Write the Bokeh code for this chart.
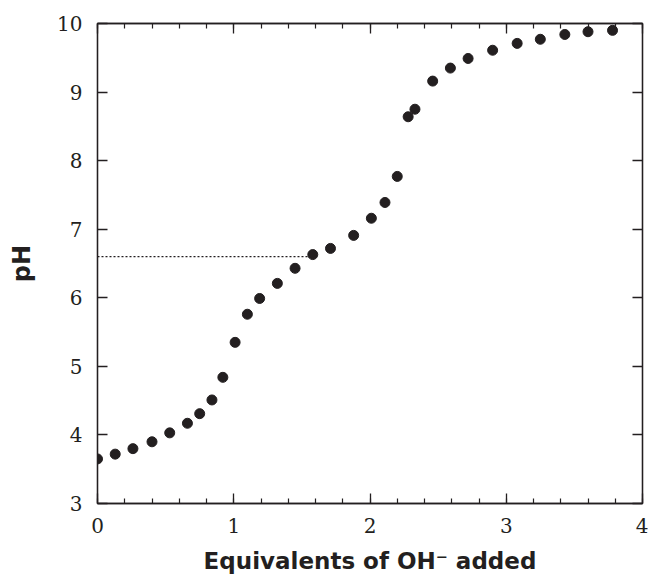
from bokeh.plotting import figure
from bokeh.models import Range1d, LinearAxis, SingleIntervalTicker
from bokeh.embed import file_html
from bokeh.resources import INLINE

# Data
equivalents = [0.0, 0.13, 0.26, 0.40, 0.53, 0.66, 0.75, 0.84, 0.92, 1.01,
               1.10, 1.19, 1.32, 1.45, 1.58, 1.71, 1.88, 2.01, 2.11, 2.20,
               2.28, 2.33, 2.46, 2.59, 2.72, 2.90, 3.08, 3.25, 3.43, 3.60, 3.78]
ph_values = [3.65, 3.72, 3.80, 3.90, 4.03, 4.17, 4.31, 4.51, 4.84, 5.35,
             5.76, 5.99, 6.21, 6.43, 6.63, 6.72, 6.91, 7.16, 7.39, 7.77,
             8.64, 8.75, 9.16, 9.35, 9.49, 9.61, 9.71, 9.77, 9.84, 9.88, 9.90]
ref_line_x = [0.0, 1.58]
ref_line_y = [6.6, 6.6]

x_title = "Equivalents of OH\u207b added"
y_title = "pH"

INK = "#231f20"

p = figure(frame_width=545, frame_height=480,
           x_range=Range1d(0, 4), y_range=Range1d(3, 10),
           output_backend="svg", toolbar_location=None,
           min_border_left=97, min_border_top=23, min_border_right=6,
           min_border_bottom=72,
           x_axis_label=x_title, y_axis_label=y_title)

p.xgrid.visible = False
p.ygrid.visible = False
p.outline_line_color = INK
p.outline_line_width = 1.3
p.background_fill_color = "white"
p.border_fill_color = "white"

xt = SingleIntervalTicker(interval=1, num_minor_ticks=5)
yt = SingleIntervalTicker(interval=1, num_minor_ticks=0)

def style(ax, labels=True):
    ax.axis_line_color = INK
    ax.axis_line_width = 1.3
    ax.major_tick_line_color = INK
    ax.major_tick_line_width = 1.3
    ax.minor_tick_line_color = INK
    ax.minor_tick_line_width = 1.2
    ax.major_tick_in = 10
    ax.major_tick_out = 0
    ax.minor_tick_in = 5
    ax.minor_tick_out = 0
    if labels:
        ax.major_label_text_font = "DejaVu Serif"
        ax.major_label_text_font_size = "20px"
        ax.major_label_text_color = INK
        ax.major_label_standoff = 15
        ax.axis_label_text_font = "DejaVu Sans"
        ax.axis_label_text_font_style = "bold"
        ax.axis_label_text_font_size = "23px"
        ax.axis_label_text_color = INK
    else:
        ax.major_label_text_font_size = "0px"
        ax.major_label_text_color = None
        ax.major_label_standoff = 0

xa = p.xaxis[0]
ya = p.yaxis[0]
xa.ticker = xt
ya.ticker = yt
style(xa)
style(ya)
xa.major_label_standoff = 14
xa.axis_label_standoff = 12
ya.axis_label_standoff = 18
ya.axis_label_text_font_size = "24px"
ya.minor_tick_line_color = None

top = LinearAxis(ticker=SingleIntervalTicker(interval=1, num_minor_ticks=5))
style(top, labels=False)
p.add_layout(top, "above")
right = LinearAxis(ticker=SingleIntervalTicker(interval=1, num_minor_ticks=0))
style(right, labels=False)
right.minor_tick_line_color = None
p.add_layout(right, "right")

p.line(ref_line_x, ref_line_y, line_color=INK, line_width=1.2, line_dash="2 2")
p.scatter(equivalents, ph_values, size=10, fill_color=INK, line_color=INK)

open("out.html", "w").write(file_html(p, INLINE))
